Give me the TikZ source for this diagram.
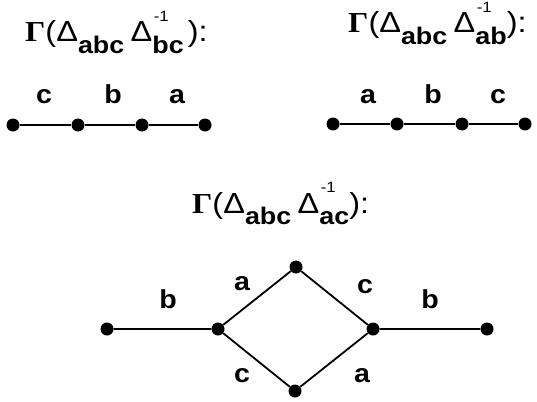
\documentclass[tikz,border=0pt]{standalone}
\usepackage{fontspec}
\setmainfont{Liberation Sans}
\newfontfamily\gserif[FakeStretch=1.1]{Liberation Serif}
\newfontfamily\wsans[FakeStretch=1.12]{Liberation Sans}
\newfontfamily\lsans[FakeStretch=1.1]{Liberation Sans}
\newcommand\ttlx[2]{{\wsans\fontsize{29}{32}\selectfont{\gserif\bfseries Γ}(Δ\raisebox{-0.4em}{\fontsize{24}{26}\selectfont\bfseries abc}\hspace{0.22em}Δ\rlap{\hspace{0.05em}\raisebox{0.72em}{\fontsize{15}{16}\selectfont -1}}\raisebox{-0.4em}{\fontsize{24}{26}\selectfont\bfseries #1}#2):}}
\tikzset{
  dot/.style={circle,fill=black,inner sep=0pt,minimum size=13pt},
  edge/.style={line width=1.8pt},
  lbl/.style={anchor=base,font=\lsans\fontsize{26}{28}\selectfont\bfseries,inner sep=0pt},
  ttl/.style={anchor=base west,inner sep=0pt}
}
\begin{document}
\begin{tikzpicture}[x=1pt,y=-1pt]
\useasboundingbox (0,0) rectangle (537,401);
% titles
\node[ttl] (t1) at (25,42) {\ttlx{bc}{\hspace{0.14em}}};
\node[ttl] (t2) at (348,33) {\ttlx{ab}{}};
\node[ttl] (t3) at (192,213) {\ttlx{ac}{}};
% top-left graph
\node[dot] (l1) at (13,125) {};
\node[dot] (l2) at (78,125) {};
\node[dot] (l3) at (142,125) {};
\node[dot] (l4) at (205,125) {};
\draw[edge] (l1) -- (l2) -- (l3) -- (l4);
\node[lbl] (lc) at (44,103) {c};
\node[lbl] (lb) at (113,103) {b};
\node[lbl] (la) at (177,103) {a};
% top-right graph
\node[dot] (r1) at (333,124) {};
\node[dot] (r2) at (397,124) {};
\node[dot] (r3) at (462,124) {};
\node[dot] (r4) at (525,124) {};
\draw[edge] (r1) -- (r2) -- (r3) -- (r4);
\node[lbl] (ra) at (368,103) {a};
\node[lbl] (rb) at (433,103) {b};
\node[lbl] (rc) at (498,103) {c};
% bottom graph
\node[dot] (b1) at (107,329) {};
\node[dot] (b2) at (218,329) {};
\node[dot] (bt) at (296,267) {};
\node[dot] (bb) at (295,391) {};
\node[dot] (b3) at (373,329) {};
\node[dot] (b4) at (487,329) {};
\draw[edge] (b1) -- (b2) -- (bt) -- (b3) -- (b4);
\draw[edge] (b2) -- (bb) -- (b3);
\node[lbl] (bl1) at (168,308) {b};
\node[lbl] (bl2) at (242,290) {a};
\node[lbl] (bl3) at (365,293) {c};
\node[lbl] (bl4) at (430,308) {b};
\node[lbl] (bl5) at (242,382) {c};
\node[lbl] (bl6) at (362,382) {a};
\end{tikzpicture}
\end{document}
